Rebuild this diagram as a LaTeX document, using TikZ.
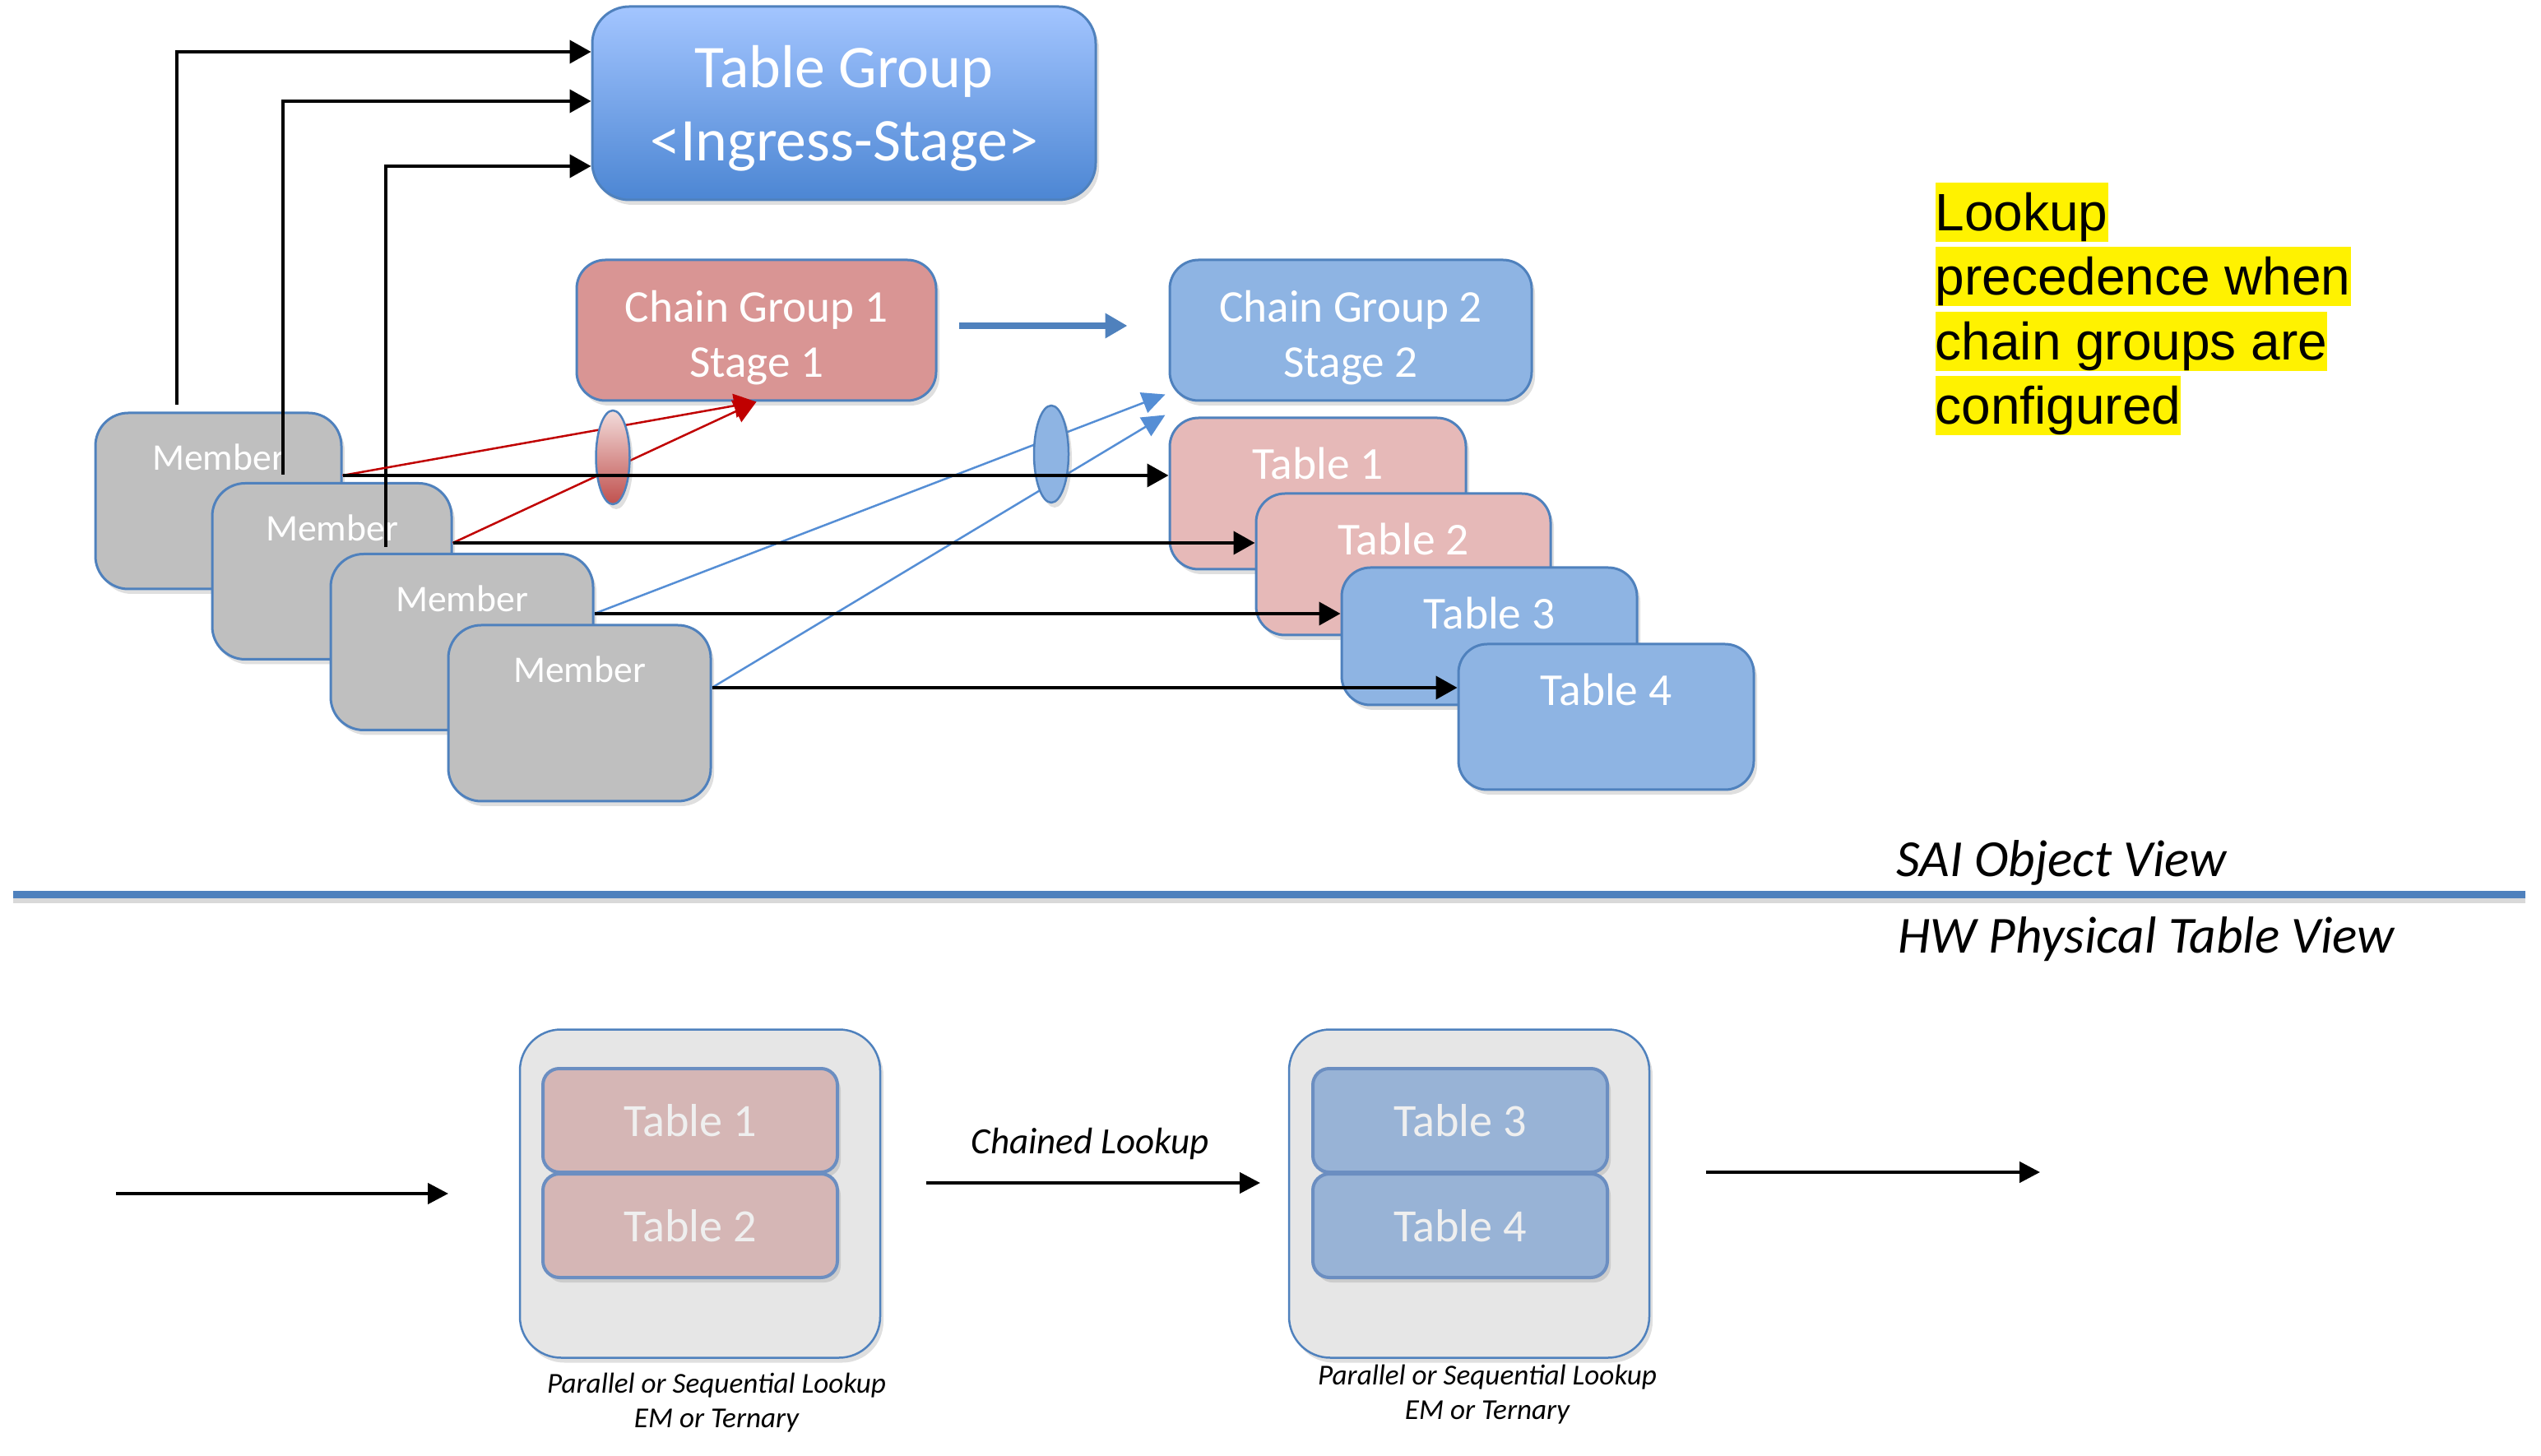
\documentclass[tikz,border=0pt]{standalone}
\usepackage{fontspec}
\setmainfont{Carlito}
\newfontfamily\arialfont{Liberation Sans}
\usetikzlibrary{positioning}
\usetikzlibrary{shadows}
\usetikzlibrary{shapes.geometric}
\usetikzlibrary{arrows.meta}
\definecolor{boxline}{HTML}{4F81BD}
\definecolor{memgray}{HTML}{BFBFBF}
\definecolor{tgtop}{HTML}{A3C5FF}
\definecolor{tgbottom}{HTML}{4C86D3}
\definecolor{cgred}{HTML}{D99594}
\definecolor{cgblue}{HTML}{8EB4E3}
\definecolor{tpink}{HTML}{E6B9B8}
\definecolor{hwgray}{HTML}{E6E6E6}
\definecolor{hwpink}{HTML}{D5B6B5}
\definecolor{hwblue}{HTML}{98B3D6}
\definecolor{hwline}{HTML}{6B8EC1}
\definecolor{hwtext}{HTML}{EFEFEF}
\definecolor{redline}{HTML}{C00000}
\definecolor{blueline}{HTML}{558ED5}
\definecolor{lenstop}{HTML}{F2DCDB}
\definecolor{lensbottom}{HTML}{C0504D}
\newcommand{\toppad}[1]{\rule{0pt}{#1}}

\begin{document}
\begin{tikzpicture}[node distance=0.3cm,
  shade box/.style={drop shadow={shadow xshift=0.04cm, shadow yshift=-0.06cm, opacity=0.25}},
  box/.style={draw=boxline, line width=0.03cm, rectangle, rounded corners=0.35cm, text=white, inner sep=0pt, align=center, shade box},
  member/.style={box, fill=memgray, rounded corners=0.4cm, font=\fontsize{13}{15}\selectfont, text height=0.70cm, text depth=1.44cm},
  group/.style={box, font=\fontsize{15.7}{19}\selectfont, minimum height=1.71cm},
  tablebox/.style={box, font=\fontsize{15.8}{19}\selectfont, text height=0.75cm},
  lens/.style={ellipse, draw=boxline, line width=0.025cm, inner sep=0pt, shade box},
  hwbox/.style={draw=boxline, line width=0.025cm, rectangle, rounded corners=0.5cm, fill=hwgray, minimum width=4.38cm, minimum height=3.99cm, shade box},
  hwtable/.style={draw=hwline, line width=0.04cm, rectangle, rounded corners=0.2cm, text=hwtext, minimum width=3.58cm, minimum height=1.26cm, font=\fontsize{16}{19}\selectfont, shade box},
  blk/.style={black, line width=0.04cm, -{Triangle[length=0.26cm, width=0.28cm]}},
  hwarrow/.style={black, line width=0.045cm, -{Triangle[length=0.25cm, width=0.25cm]}},
  caption/.style={align=center, font=\fontsize{10}{12}\selectfont\itshape},
  highlight/.style={fill=yellow, inner sep=0pt, text height=0.586cm, text depth=0.134cm, font=\arialfont\fontsize{18.2}{22}\selectfont}]
\useasboundingbox (0,0) rectangle (30.89,17.69);

\node[member, minimum width=2.99cm](m1) at (2.655,11.60){Member};
\node[member, minimum width=2.91cm](m2) at (4.035,10.745){Member};
\node[member, minimum width=3.19cm](m3) at (5.615,9.885){Member};
\node[member, minimum width=3.19cm](m4) at (7.045,9.02){Member};

\node[box, top color=tgtop, bottom color=tgbottom, minimum width=6.12cm, minimum height=2.35cm, rounded corners=0.45cm, font=\fontsize{21}{25.5}\selectfont](tg) at (10.26,16.435){\toppad{0.64cm}Table Group\\<Ingress-Stage>};
\node[group, fill=cgred, minimum width=4.37cm](cg1) at (9.195,13.675){\toppad{0.56cm}Chain Group 1\\Stage 1};
\node[group, fill=cgblue, minimum width=4.40cm](cg2) at (16.42,13.675){\toppad{0.56cm}Chain Group 2\\Stage 2};

\coordinate (u1) at ([xshift=1.00cm, yshift=0.08cm]m1.north west);
\coordinate (u2) at ([xshift=0.87cm, yshift=0.09cm]m2.north west);
\coordinate (u3) at ([xshift=0.68cm, yshift=0.07cm]m3.north west);
\draw[blk](u1) |- ([yshift=0.625cm]tg.west);
\draw[blk](u2) |- ([yshift=0.025cm]tg.west);
\draw[blk](u3) |- ([yshift=-0.765cm]tg.west);

\coordinate (c1) at ([xshift=0.26cm, yshift=0.055cm]cg1.east);
\coordinate (c2) at ([xshift=-0.50cm, yshift=0.055cm]cg2.west);
\draw[boxline, line width=0.075cm, -{Triangle[length=0.27cm, width=0.29cm]}](c1)--(c2);

\node[tablebox, fill=tpink, minimum width=3.60cm, text depth=1.09cm](t1) at (16.02,11.69){Table 1};
\node[tablebox, fill=tpink, minimum width=3.58cm, text depth=0.97cm](t2) at (17.06,10.83){Table 2};
\node[tablebox, fill=cgblue, minimum width=3.59cm, text depth=0.92cm](t3) at (18.105,9.955){Table 3};
\node[tablebox, fill=cgblue, minimum width=3.59cm, text depth=1.02cm](t4) at (19.525,8.975){Table 4};

\coordinate (a1) at ([yshift=0.31cm]m1.east);
\coordinate (a2) at ([yshift=0.345cm]m2.east);
\coordinate (a3) at ([yshift=0.345cm]m3.east);
\coordinate (a4) at ([yshift=0.31cm]m4.east);

\draw[redline, line width=0.025cm, -{Triangle[length=0.27cm, width=0.29cm]}](a1)--(cg1.south);
\draw[redline, line width=0.025cm, -{Triangle[length=0.27cm, width=0.29cm]}](a2)--(cg1.south);
\draw[blueline, line width=0.025cm, -{Triangle[length=0.28cm, width=0.26cm]}](a3)--([xshift=-0.04cm, yshift=0.09cm]cg2.south west);
\draw[blueline, line width=0.025cm, -{Triangle[length=0.28cm, width=0.26cm]}](a4)--([xshift=-0.04cm, yshift=-0.16cm]cg2.south west);

\node[lens, top color=lenstop, bottom color=lensbottom, minimum width=0.41cm, minimum height=1.14cm](redlens) at (7.45,12.13){};
\node[lens, fill=cgblue, minimum width=0.42cm, minimum height=1.18cm](bluelens) at (12.78,12.17){};

\draw[blk](a1)--(a1 -| t1.west);
\draw[blk](a2)--(a2 -| t2.west);
\draw[blk](a3)--(a3 -| t3.west);
\draw[blk](a4)--(a4 -| t4.west);

\node[highlight, anchor=north west](hl1) at (23.52,15.48){Lookup\ };
\node[highlight](hl2)[below right=0.05cm and 0cm of hl1.south west]{precedence when\ };
\node[highlight](hl3)[below right=0.05cm and 0cm of hl2.south west]{chain groups are\ };
\node[highlight](hl4)[below right=0.05cm and 0cm of hl3.south west]{configured};

\coordinate (sepl) at (0.16,6.81);
\coordinate (sepr) at (30.70,6.81);
\draw[boxline, line width=0.09cm, preaction={draw=black, opacity=0.15, line width=0.09cm, transform canvas={yshift=-0.06cm}}](sepl)--(sepr);
\node[anchor=base west, font=\fontsize{18}{22}\selectfont\itshape](sai) at (22.93,7.03){SAI Object View};
\node[anchor=base west, font=\fontsize{18}{22}\selectfont\itshape](hw) at (22.95,6.10){HW Physical Table View};

\node[hwbox](hw1) at (8.51,3.18){};
\node[hwtable, fill=hwpink](hw1a) at (8.39,4.07){Table 1};
\node[hwtable, fill=hwpink](hw1b) at (8.39,2.79){Table 2};
\node[hwbox](hw2) at (17.86,3.18){};
\node[hwtable, fill=hwblue](hw2a) at (17.75,4.07){Table 3};
\node[hwtable, fill=hwblue](hw2b) at (17.75,2.79){Table 4};

\coordinate (p1) at (1.41,3.18);
\coordinate (p2) at (5.45,3.18);
\coordinate (p3) at (11.26,3.31);
\coordinate (p4) at (15.32,3.31);
\coordinate (p5) at (20.74,3.44);
\coordinate (p6) at (24.80,3.44);
\draw[hwarrow](p1)--(p2);
\draw[hwarrow](p3)--(p4)node[midway, above=0.14cm, xshift=-0.04cm, font=\fontsize{12.8}{15}\selectfont\itshape]{Chained Lookup};
\draw[hwarrow](p5)--(p6);

\node[caption](cap1) at (8.71,0.64){Parallel or Sequential Lookup\\EM or Ternary};
\node[caption](cap2) at (18.08,0.74){Parallel or Sequential Lookup\\EM or Ternary};
\end{tikzpicture}
\end{document}
